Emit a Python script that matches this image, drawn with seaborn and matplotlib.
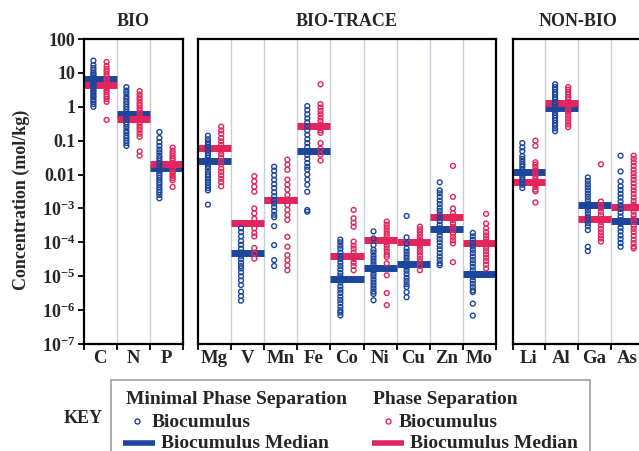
import matplotlib
matplotlib.use("Agg")
import matplotlib.pyplot as plt
import numpy as np
import pandas as pd
import seaborn as sns
from matplotlib.lines import Line2D
from matplotlib.patches import Rectangle

# ---------------- data ----------------
group_titles = ["BIO", "BIO-TRACE", "NON-BIO"]
bio = ["C", "N", "P"]
bio_trace = ["Mg", "V", "Mn", "Fe", "Co", "Ni", "Cu", "Zn", "Mo"]
non_bio = ["Li", "Al", "Ga", "As"]
elements = bio + bio_trace + non_bio

# medians (mol/kg), element order
median_minimal = [6.5, 0.6, 0.0155, 0.0245, 5e-5, 1.8e-3, 0.049, 8.5e-6, 1.7e-5,
                  2.35e-5, 2.4e-4, 1.2e-5, 0.0123, 0.9, 1.3e-3, 4.4e-4]
median_phase = [4.4, 0.45, 0.0205, 0.059, 3.6e-4, 1.75e-3, 0.27, 4e-5, 1.2e-4,
                1.05e-4, 5.5e-4, 9.8e-5, 0.006, 1.3, 4.9e-4, 1.1e-3]

# Minimal phase separation biocumulus samples
C_min = [23, 17, 14, 12, 10, 9, 8, 7, 6.5, 6, 5.5, 5, 4.5, 4, 3.5, 3, 2.7, 2.4, 2.1, 1.9, 1.6, 1.4, 1.2, 1.0]
N_min = [3.8, 3.0, 2.5, 2.0, 1.7, 1.4, 1.2, 1.0, 0.85, 0.7, 0.6, 0.5, 0.42, 0.35, 0.3, 0.25, 0.2, 0.17, 0.14, 0.12, 0.1, 0.085, 0.07]
P_min = [0.18, 0.12, 0.09, 0.07, 0.055, 0.045, 0.036, 0.03, 0.025, 0.021, 0.018, 0.015, 0.013, 0.011, 0.0095, 0.008, 0.0068, 0.0058, 0.005, 0.0042, 0.0035, 0.003, 0.0025, 0.002]
Mg_min = [0.14, 0.11, 0.09, 0.075, 0.062, 0.052, 0.044, 0.037, 0.031, 0.026, 0.022, 0.018, 0.015, 0.012, 0.01, 0.0085, 0.007, 0.0058, 0.0048, 0.004, 0.0034, 0.0013]
V_min = [2.6e-4, 2e-4, 1.5e-4, 1.1e-4, 8.5e-5, 6.5e-5, 5e-5, 4e-5, 3.2e-5, 2.5e-5, 2e-5, 1.7e-5, 1.3e-5, 1e-5, 7.5e-6, 5.5e-6, 3.5e-6, 2.6e-6, 1.9e-6]
Mn_min = [0.017, 0.013, 0.0095, 0.007, 0.0052, 0.004, 0.003, 0.0023, 0.0018, 0.0014, 0.0011, 8.5e-4, 6.5e-4, 5.5e-4, 3e-4, 8.3e-5, 3e-5, 2e-5]
Fe_min = [1.05, 0.8, 0.6, 0.45, 0.35, 0.27, 0.2, 0.15, 0.11, 0.085, 0.065, 0.05, 0.038, 0.029, 0.022, 0.017, 0.014, 0.01, 0.0071, 0.005, 0.0031, 9e-4, 8e-4]
Co_min = [1.2e-4, 1e-4, 8e-5, 6.5e-5, 5e-5, 4e-5, 3.2e-5, 2.5e-5, 2e-5, 1.6e-5, 1.25e-5, 1e-5, 8e-6, 6.5e-6, 5e-6, 4e-6, 3.2e-6, 2.5e-6, 2e-6, 1.6e-6, 1.25e-6, 1e-6, 8.5e-7, 7e-7]
Ni_min = [2.1e-4, 1.3e-4, 8.3e-5, 6e-5, 5e-5, 4e-5, 3.3e-5, 2.7e-5, 2.2e-5, 1.8e-5, 1.5e-5, 1.2e-5, 1e-5, 8e-6, 6.5e-6, 5.3e-6, 4.3e-6, 3.5e-6, 3e-6, 1.95e-6]
Cu_min = [6e-4, 1.4e-4, 9.3e-5, 6.6e-5, 5.3e-5, 4.3e-5, 3.5e-5, 2.8e-5, 2.3e-5, 1.8e-5, 1.45e-5, 1.15e-5, 9e-6, 7.3e-6, 5.8e-6, 4.8e-6, 3.4e-6, 2.4e-6]
Zn_min = [5.9e-3, 3.4e-3, 2.8e-3, 2.2e-3, 1.7e-3, 1.35e-3, 1.05e-3, 8.5e-4, 6.7e-4, 5.3e-4, 4.2e-4, 3.3e-4, 2.6e-4, 2e-4, 1.6e-4, 1.25e-4, 1e-4, 7.8e-5, 6.2e-5, 4.8e-5, 3.8e-5, 3e-5, 2.4e-5, 2.1e-5]
Mo_min = [1.9e-4, 1.5e-4, 1.2e-4, 9.5e-5, 7.5e-5, 6e-5, 4.8e-5, 3.8e-5, 3e-5, 2.4e-5, 1.9e-5, 1.5e-5, 1.2e-5, 9.5e-6, 7.5e-6, 6e-6, 4.8e-6, 3.8e-6, 3.4e-6, 1.55e-6, 6.9e-7]
Li_min = [0.085, 0.063, 0.049, 0.035, 0.029, 0.024, 0.02, 0.017, 0.014, 0.012, 0.01, 0.0085, 0.007, 0.006, 0.005, 0.004]
Al_min = [4.6, 3.8, 3.2, 2.7, 2.3, 1.9, 1.6, 1.35, 1.15, 0.95, 0.8, 0.67, 0.56, 0.47, 0.4, 0.33, 0.28, 0.23, 0.19]
Ga_min = [8.2e-3, 6.5e-3, 5.2e-3, 4.2e-3, 3.4e-3, 2.7e-3, 2.2e-3, 1.75e-3, 1.4e-3, 1.1e-3, 9e-4, 7.2e-4, 5.8e-4, 4.6e-4, 3.7e-4, 3e-4, 2.3e-4, 7.4e-5, 5.5e-5]
As_min = [0.036, 0.0123, 6.3e-3, 4.5e-3, 3.5e-3, 2.7e-3, 2.1e-3, 1.6e-3, 1.25e-3, 9.7e-4, 7.5e-4, 5.8e-4, 4.5e-4, 3.5e-4, 2.7e-4, 2.1e-4, 1.6e-4, 1.25e-4, 9.6e-5, 7.4e-5]

# Phase separation biocumulus samples
C_ps = [21, 16, 13, 11, 9, 7.5, 6.5, 5.5, 4.8, 4.2, 3.6, 3.1, 2.7, 2.3, 2.0, 1.7, 1.4, 0.41]
N_ps = [2.9, 2.3, 1.9, 1.6, 1.3, 1.1, 0.9, 0.75, 0.62, 0.5, 0.42, 0.35, 0.29, 0.24, 0.2, 0.16, 0.13, 0.048, 0.036]
P_ps = [0.062, 0.05, 0.042, 0.035, 0.03, 0.026, 0.022, 0.019, 0.016, 0.014, 0.012, 0.0105, 0.009, 0.0078, 0.0068, 0.0043]
Mg_ps = [0.26, 0.2, 0.16, 0.12, 0.095, 0.075, 0.06, 0.05, 0.04, 0.032, 0.025, 0.02, 0.015, 0.012, 0.0095, 0.0075, 0.006, 0.0045]
V_ps = [0.009, 0.0063, 0.0044, 0.0031, 1e-3, 7.2e-4, 5e-4, 3.7e-4, 2.6e-4, 1.9e-4, 1.5e-4, 6.8e-5, 4.7e-5, 3.3e-5]
Mn_ps = [0.0275, 0.0195, 0.0138, 0.0071, 0.005, 0.0036, 0.0025, 0.0018, 0.00126, 9.1e-4, 6.4e-4, 4.6e-4, 1.45e-4, 7.4e-5, 4.2e-5, 3e-5, 2.1e-5, 1.5e-5]
Fe_ps = [4.6, 1.2, 0.95, 0.75, 0.6, 0.48, 0.38, 0.3, 0.24, 0.2, 0.17, 0.085, 0.058, 0.039, 0.026]
Co_ps = [9e-4, 5.1e-4, 3.8e-4, 2.9e-4, 1.05e-4, 8e-5, 6.5e-5, 5e-5, 4e-5, 3.2e-5, 2.5e-5, 2e-5, 1.5e-5]
Ni_ps = [4.1e-4, 3.3e-4, 2.7e-4, 2.2e-4, 1.8e-4, 1.5e-4, 1.2e-4, 1e-4, 8e-5, 6.5e-5, 5.3e-5, 4.3e-5, 3.7e-5, 2.4e-5, 1.07e-5, 3.2e-6, 1.4e-6]
Cu_ps = [2.9e-4, 2.4e-4, 2e-4, 1.65e-4, 1.35e-4, 1.1e-4, 9e-5, 7.5e-5, 6e-5, 5e-5, 4e-5, 3.2e-5, 2.6e-5, 2e-5, 1.5e-5]
Zn_ps = [0.018, 2.2e-3, 1e-3, 7.2e-4, 5.8e-4, 4.6e-4, 3.6e-4, 2.9e-4, 2.3e-4, 1.8e-4, 1.45e-4, 1.15e-4, 9.3e-5, 2.6e-5]
Mo_ps = [6.9e-4, 3.6e-4, 2.6e-4, 2e-4, 1.6e-4, 1.3e-4, 1.05e-4, 8.5e-5, 6.8e-5, 5.5e-5, 4.4e-5, 3.5e-5, 2.8e-5, 2.2e-5, 1.7e-5]
Li_ps = [0.1, 0.07, 0.023, 0.0195, 0.016, 0.013, 0.011, 0.009, 0.0075, 0.0062, 0.0052, 0.0043, 0.0036, 0.0032, 0.0015]
Al_ps = [3.8, 3.2, 2.7, 2.3, 1.9, 1.6, 1.35, 1.15, 0.95, 0.8, 0.67, 0.55, 0.45, 0.37, 0.3, 0.25]
Ga_ps = [0.02, 1.6e-3, 1.25e-3, 1e-3, 8e-4, 6.3e-4, 5e-4, 4e-4, 3.2e-4, 2.5e-4, 2e-4, 1.6e-4, 1.3e-4, 1.05e-4]
As_ps = [0.036, 0.029, 0.023, 0.018, 0.014, 0.011, 8.8e-3, 7e-3, 5.5e-3, 4.3e-3, 3.4e-3, 2.7e-3, 2.1e-3, 1.65e-3, 1.3e-3, 1e-3, 8e-4, 6.3e-4, 5e-4, 4e-4, 3.1e-4, 2.5e-4, 2e-4, 1.55e-4, 1.2e-4, 9.5e-5, 7.5e-5, 6.6e-5]

ytick_values = [100, 10, 1, 0.1, 0.01, 1e-3, 1e-4, 1e-5, 1e-6, 1e-7]
ytick_labels = ["100", "10", "1", "0.1", "0.01",
                r"$10^{-3}$", r"$10^{-4}$", r"$10^{-5}$", r"$10^{-6}$", r"$10^{-7}$"]

PH_MIN = "Minimal Phase Separation"
PH_PS = "Phase Separation"

# ---------------- build table ----------------
_min_lists = [C_min, N_min, P_min, Mg_min, V_min, Mn_min, Fe_min, Co_min, Ni_min,
              Cu_min, Zn_min, Mo_min, Li_min, Al_min, Ga_min, As_min]
_ps_lists = [C_ps, N_ps, P_ps, Mg_ps, V_ps, Mn_ps, Fe_ps, Co_ps, Ni_ps,
             Cu_ps, Zn_ps, Mo_ps, Li_ps, Al_ps, Ga_ps, As_ps]
rows = []
for el, lm, lp in zip(elements, _min_lists, _ps_lists):
    rows += [(el, PH_MIN, v) for v in lm]
    rows += [(el, PH_PS, v) for v in lp]
df = pd.DataFrame(rows, columns=["element", "phase", "value"])
med_min = dict(zip(elements, median_minimal))
med_ps = dict(zip(elements, median_phase))

# ---------------- style ----------------
sns.set_theme(style="ticks")
plt.rcParams.update({
    "font.family": ["Liberation Serif", "DejaVu Serif"],
    "font.weight": "bold",
    "mathtext.fontset": "custom",
    "mathtext.rm": "Liberation Serif:bold",
    "mathtext.it": "Liberation Serif:italic:bold",
    "mathtext.bf": "Liberation Serif:bold",
    "mathtext.default": "rm",
})
BLUE = "#1c469c"
RED = "#e3255d"
GRID = "#c8d0da"

W, H = 639, 451
fig = plt.figure(figsize=(W / 100, H / 100), dpi=100)


def fx(x):
    return x / W


def fy(y):
    return 1 - y / H


top_px, bot_px = 39, 344
panels = [(83.5, 182.5, bio), (198, 496, bio_trace), (512.5, 643.5, non_bio)]
axes = []
for (x0, x1, elems), title in zip(panels, group_titles):
    ax = fig.add_axes([fx(x0), fy(bot_px), (x1 - x0) / W, (bot_px - top_px) / H])
    axes.append(ax)
    sub = df[df["element"].isin(elems)]
    n = len(elems)
    # median bars
    for i, el in enumerate(elems):
        lc = ax.hlines(med_min[el], i - 0.5, i + 0.5, color=BLUE, lw=5, zorder=2)
        lc.set_capstyle("butt")
        lc = ax.hlines(med_ps[el], i - 0.5, i + 0.5, color=RED, lw=5, zorder=2.1)
        lc.set_capstyle("butt")
    sns.stripplot(data=sub, x="element", y="value", hue="phase", order=elems,
                  hue_order=[PH_MIN, PH_PS], palette=[BLUE, RED], dodge=True,
                  jitter=False, size=3.5, linewidth=1.0, legend=False,
                  log_scale=True, ax=ax, zorder=3)
    for coll in ax.collections:
        if coll.__class__.__name__ == "PathCollection":
            fc = coll.get_facecolor()
            coll.set_edgecolor(fc)
            coll.set_facecolor("none")
            coll.set_linewidth(1.0)
            coll.set_zorder(3)
    ax.set_yscale("log")
    ax.set_ylim(1e-7, 100)
    ax.set_xlim(-0.5, n - 0.5)
    for b in np.arange(0.5, n - 0.5, 1):
        ax.axvline(b, color=GRID, lw=1.0, zorder=0)
    ax.set_xticks(np.arange(-0.5, n, 1))
    ax.set_xticklabels([""] * (n + 1))
    ax.set_xticks(np.arange(n), minor=True)
    ax.set_xticklabels(elems, minor=True, fontsize=13.5, fontweight="bold")
    ax.tick_params(axis="x", which="major", direction="out", length=4, width=1.3, color="black")
    ax.tick_params(axis="x", which="minor", length=0, pad=4)
    ax.set_xlabel("")
    ax.set_ylabel("")
    ax.yaxis.set_minor_locator(matplotlib.ticker.NullLocator())
    if elems is bio:
        ax.set_yticks(ytick_values)
        ax.set_yticklabels(ytick_labels, fontsize=13)
        ax.tick_params(axis="y", direction="out", length=4, width=1.3, pad=2, color="black")
    else:
        ax.set_yticks([])
    for s in ax.spines.values():
        s.set_visible(True)
        s.set_color("black")
        s.set_linewidth(1.6)
    ax.set_title(title, fontsize=13, fontweight="bold", pad=9)
    ax.set_facecolor("white")

fig.text(fx(21), fy(200), "Concentration (mol/kg)", rotation=90, ha="center", va="center",
         fontsize=13, fontweight="bold")

# ---------------- key ----------------
fig.patches.append(Rectangle((fx(111), fy(470)), fx(590) - fx(111), fy(380) - fy(470),
                             transform=fig.transFigure, fill=False, edgecolor="#a0a0a0",
                             lw=1.2))
fs = 14
fig.text(fx(64), fy(423), "KEY", fontsize=13, fontweight="bold", va="baseline")
fig.text(fx(126), fy(404.5), PH_MIN, fontsize=fs, fontweight="bold", va="baseline")
fig.text(fx(373), fy(404.5), PH_PS, fontsize=fs, fontweight="bold", va="baseline")
for mx, tx, col in [(137, 152, BLUE), (388, 399, RED)]:
    fig.add_artist(Line2D([fx(mx)], [fy(421)], marker="o", ms=3.6, mfc="none", mec=col,
                          mew=1.0, linestyle="none", transform=fig.transFigure))
    fig.text(fx(tx), fy(427), "Biocumulus", fontsize=fs, fontweight="bold", va="baseline")
for bx0, bx1, tx, col in [(123, 155, 161, BLUE), (372, 404, 410, RED)]:
    fig.add_artist(Line2D([fx(bx0), fx(bx1)], [fy(443), fy(443)], color=col, lw=4,
                          solid_capstyle="butt", transform=fig.transFigure))
    fig.text(fx(tx), fy(448.5), "Biocumulus Median", fontsize=fs, fontweight="bold",
             va="baseline")

fig.savefig("out.png", dpi=100, facecolor="white")
